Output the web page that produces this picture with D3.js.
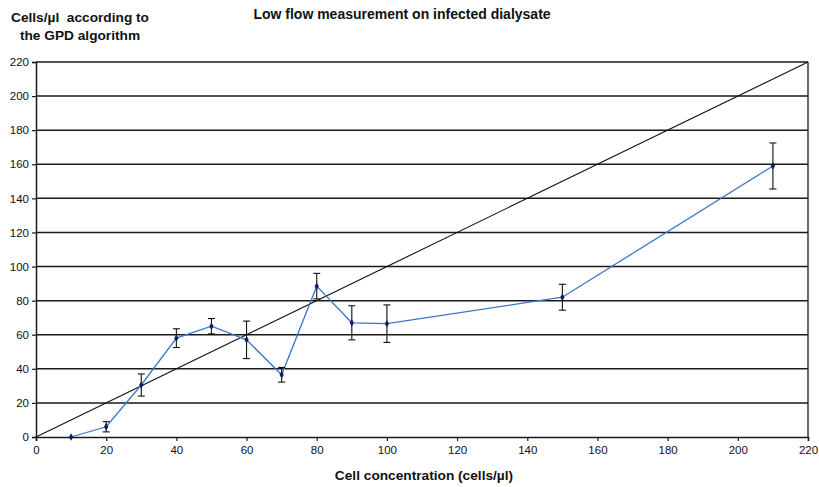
<!DOCTYPE html>
<html>
<head>
<meta charset="utf-8">
<script src="https://cdn.jsdelivr.net/npm/d3@7"></script>
<style>
  html, body { margin: 0; padding: 0; background: #ffffff; }
  svg { display: block; font-family: "Liberation Sans", Arial, sans-serif; }
</style>
</head>
<body>
<svg id="chart" width="819" height="487"></svg>
<script>
// Cell concentration (cells/µl) and GPD algorithm result with error (±)
const concentrations = [10, 20, 30, 40, 50, 60, 70, 80, 90, 100, 150, 210];
const gpdValues      = [0, 6, 30.5, 58, 65, 57, 36.5, 88.5, 67, 66.5, 82, 159];
const gpdErrors      = [0, 3, 6.5, 5.5, 4.5, 11, 4.3, 7.5, 10, 11, 7.6, 13.5];
const xTicks = [0, 20, 40, 60, 80, 100, 120, 140, 160, 180, 200, 220];
const yTicks = [0, 20, 40, 60, 80, 100, 120, 140, 160, 180, 200, 220];
const identityLine = [0, 220];

const svg = d3.select("#chart");
const margin = { left: 36, right: 11, top: 62, bottom: 50 };
const W = 819, H = 487;

const x = d3.scaleLinear().domain([0, 220]).range([margin.left, W - margin.right]);
const y = d3.scaleLinear().domain([0, 220]).range([H - margin.bottom, margin.top]);

// horizontal gridlines
svg.append("g")
  .selectAll("line")
  .data(yTicks.filter(d => d > 0))
  .join("line")
  .attr("x1", x(0)).attr("x2", x(220))
  .attr("y1", d => y(d)).attr("y2", d => y(d))
  .attr("stroke", "#1a1a1a").attr("stroke-width", 1.5);

// right border of plot area
svg.append("line")
  .attr("x1", x(220)).attr("x2", x(220))
  .attr("y1", y(0)).attr("y2", y(220))
  .attr("stroke", "#1a1a1a").attr("stroke-width", 1.3);

// axes
const xAxis = svg.append("g")
  .attr("transform", `translate(0,${y(0)})`)
  .call(d3.axisBottom(x).tickValues(xTicks).tickSize(4).tickPadding(5));
const yAxis = svg.append("g")
  .attr("transform", `translate(${x(0)},0)`)
  .call(d3.axisLeft(y).tickValues(yTicks).tickSize(4).tickPadding(3));

[xAxis, yAxis].forEach(g => {
  g.select(".domain").attr("stroke", "#1a1a1a").attr("stroke-width", 1.5);
  g.selectAll(".tick line").attr("stroke", "#1a1a1a").attr("stroke-width", 1.2);
  g.selectAll(".tick text")
    .attr("fill", "#111")
    .style("font-size", "11.5px")
    .style("font-family", "'Liberation Sans', Arial, sans-serif");
});

// identity line y = x
svg.append("line")
  .attr("x1", x(identityLine[0])).attr("y1", y(identityLine[0]))
  .attr("x2", x(identityLine[1])).attr("y2", y(identityLine[1]))
  .attr("stroke", "#111").attr("stroke-width", 1.1);

const pts = concentrations.map((c, i) => ({ c, v: gpdValues[i], e: gpdErrors[i] }));

// measured series
svg.append("path")
  .datum(pts)
  .attr("fill", "none")
  .attr("stroke", "#3a78c8")
  .attr("stroke-width", 1.3)
  .attr("d", d3.line().x(d => x(d.c)).y(d => y(d.v)));

// error bars
const eb = svg.append("g").attr("stroke", "#111").attr("stroke-width", 1.1);
pts.filter(d => d.e > 0).forEach(d => {
  const cx = x(d.c);
  eb.append("line").attr("x1", cx).attr("x2", cx).attr("y1", y(d.v + d.e)).attr("y2", y(d.v - d.e));
  eb.append("line").attr("x1", cx - 3.5).attr("x2", cx + 3.5).attr("y1", y(d.v + d.e)).attr("y2", y(d.v + d.e));
  eb.append("line").attr("x1", cx - 3.5).attr("x2", cx + 3.5).attr("y1", y(d.v - d.e)).attr("y2", y(d.v - d.e));
});

// diamond markers
svg.append("g")
  .selectAll("path")
  .data(pts)
  .join("path")
  .attr("transform", d => `translate(${x(d.c)},${y(d.v)})`)
  .attr("d", d3.symbol().type(d3.symbolDiamond).size(16))
  .attr("fill", "#0f1f66");

// titles
svg.append("text")
  .attr("x", 402).attr("y", 19)
  .attr("text-anchor", "middle")
  .style("font-size", "14px").style("font-weight", "bold")
  .attr("fill", "#111")
  .text("Low flow measurement on infected dialysate");

const yt = svg.append("text")
  .attr("text-anchor", "middle")
  .style("font-size", "13.7px").style("font-weight", "bold")
  .style("white-space", "pre")
  .attr("fill", "#111");
yt.append("tspan").attr("x", 80).attr("y", 22).text("Cells/µl\u00a0 according to");
yt.append("tspan").attr("x", 80).attr("y", 40).text("the GPD algorithm");

svg.append("text")
  .attr("x", 424).attr("y", 480)
  .attr("text-anchor", "middle")
  .style("font-size", "13.7px").style("font-weight", "bold")
  .attr("fill", "#111")
  .text("Cell concentration (cells/µl)");
</script>
</body>
</html>
